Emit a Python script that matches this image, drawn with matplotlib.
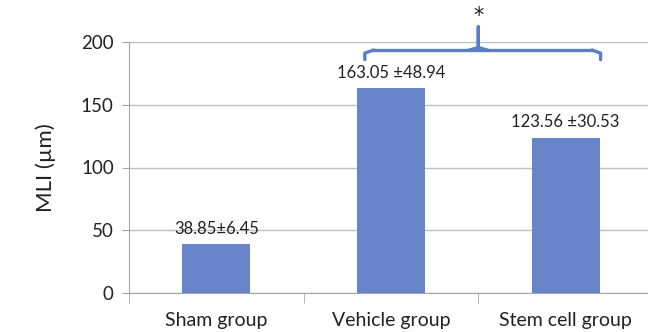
import matplotlib.pyplot as plt
import numpy as np

# datos
grupos = ["Sham group", "Vehicle group", "Stem cell group"]
mli = [38.85, 163.05, 123.56]
etiquetas = ["38.85±6.45", "163.05 ±48.94", "123.56 ±30.53"]
y_ticks = [0, 50, 100, 150, 200]

plt.rcParams['font.family'] = ['Lato', 'DejaVu Sans']

fig = plt.figure(figsize=(6.48, 3.32), dpi=100)
ax = fig.add_axes([129/648, (332-293)/332, 524/648, (293-42)/332])

x = np.arange(len(grupos))
ax.bar(x, mli, width=0.39, color='#6785C8', zorder=3)

for xi, v, lab in zip(x, mli, etiquetas):
    ax.text(xi, v + 6, lab, ha='center', va='bottom', fontsize=12, color='#222222')

ax.set_xlim(-0.5, 2.5)
ax.set_ylim(0, 200)
ax.set_yticks(y_ticks)
ax.tick_params(axis='y', labelsize=13.5, length=5, color='#A6A6A6', pad=6, labelcolor='#222222')
ax.set_xticks(x)
ax.set_xticklabels(grupos, fontsize=14, color='#222222')
ax.tick_params(axis='x', length=0, pad=14)
ax.set_xticks([-0.5, 0.5, 1.5, 2.5], minor=True)
ax.tick_params(axis='x', which='minor', length=7, color='#A6A6A6')
ax.grid(axis='y', color='#BFBFBF', linewidth=1, zorder=0)
for s in ['top', 'right']:
    ax.spines[s].set_visible(False)
for s in ['left', 'bottom']:
    ax.spines[s].set_color('#A6A6A6')
ax.set_ylabel("MLI (µm)", fontsize=16, labelpad=18, color='#222222')

# llave de significancia
xa, xb, xc = 0.85, 1.5, 2.2
yb, yh, yt = 186, 193.6, 212
c = '#5B7FC6'
ax.plot([xa, xa, xa + 0.05], [yb, yh - 2.5, yh], color=c, lw=2.4, clip_on=False, solid_capstyle='round')
ax.plot([xa + 0.05, xc - 0.05], [yh, yh], color=c, lw=2.4, clip_on=False)
ax.plot([xc - 0.05, xc, xc], [yh, yh - 2.5, yb], color=c, lw=2.4, clip_on=False, solid_capstyle='round')
ax.plot([xb - 0.05, xb, xb, xb, xb + 0.05], [yh, yh + 2, yt, yh + 2, yh], color=c, lw=2.4, clip_on=False)
ax.text(xb, yt + 1, "*", ha='center', va='bottom', fontsize=15, color='#222222',
        family='DejaVu Sans')

fig.savefig("out.png", dpi=100)
